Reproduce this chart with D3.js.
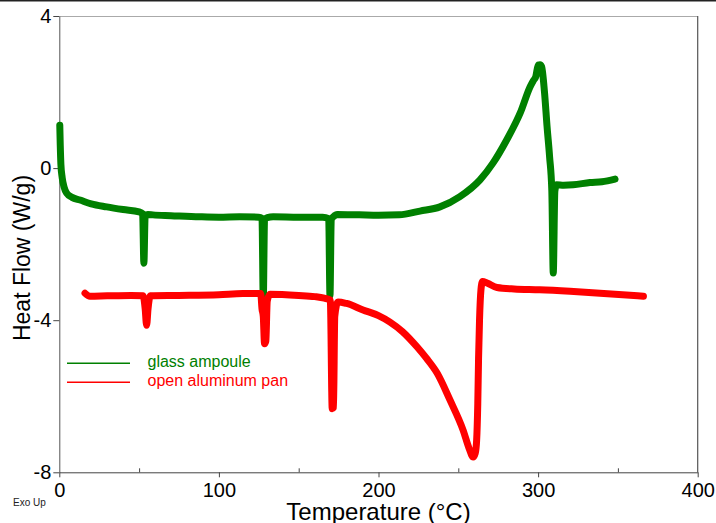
<!DOCTYPE html>
<html>
<head>
<meta charset="utf-8">
<script src="https://cdn.jsdelivr.net/npm/d3@7"></script>
<style>
  html, body { margin: 0; padding: 0; background: #fff; }
  svg { display: block; }
  text { font-family: Arial, "Liberation Sans", sans-serif; }
</style>
</head>
<body>
<svg id="chart" width="716" height="523"></svg>
<script>
// ---- data ----
const seriesNames = ["glass ampoule", "open aluminum pan"];
const seriesColors = ["#008000", "#ff0000"];

const glassT = [0.3, 0.6, 1.0, 1.8, 3, 4.6, 8, 13, 20, 29.7, 40, 50, 52.2, 53.0, 53.8, 55.5, 58.7, 70, 88, 100, 113, 125, 127.0, 127.8, 128.6, 130.3, 134, 150, 165, 168.8, 169.6, 170.4, 172.5, 174, 188, 200, 213, 226, 238.5, 251, 263.6, 271.7, 280.3, 288.8, 295, 297, 298.5, 300.1, 301.2, 302.2, 304, 305.6, 307.2, 308.6, 309.5, 310.5, 311.6, 316, 322, 332.5, 340, 348.2];
const glassV = [1.13, 0.6, 0.1, -0.25, -0.5, -0.66, -0.77, -0.84, -0.94, -1.02, -1.09, -1.15, -1.2, -2.5, -1.25, -1.22, -1.23, -1.25, -1.28, -1.29, -1.28, -1.29, -1.32, -3.45, -1.35, -1.3, -1.28, -1.29, -1.29, -1.33, -3.35, -1.35, -1.25, -1.22, -1.23, -1.24, -1.23, -1.13, -1.02, -0.75, -0.31, 0.13, 0.74, 1.45, 2.14, 2.3, 2.4, 2.71, 2.72, 2.67, 2.0, 1.1, 0.3, -0.6, -2.76, -0.6, -0.44, -0.45, -0.44, -0.38, -0.36, -0.29];

const panT = [16.1, 19.2, 30, 45, 52.5, 53.8, 54.7, 55.6, 57.0, 75, 100, 115, 126.2, 127.0, 127.8, 128.6, 129.4, 130.3, 132, 150, 160, 166, 169.8, 171.0, 171.8, 172.6, 174.6, 180, 190.3, 200, 207.2, 215, 224.1, 230, 236.7, 244.8, 253, 257, 259.3, 260.6, 261.5, 262.2, 262.7, 263.3, 264.2, 265.2, 268, 274.3, 285, 301, 320, 338.8, 366];
const panV = [-3.29, -3.37, -3.36, -3.35, -3.36, -3.7, -4.13, -3.7, -3.36, -3.35, -3.33, -3.3, -3.3, -3.7, -3.9, -4.62, -4.55, -3.5, -3.32, -3.35, -3.38, -3.42, -3.47, -6.33, -6.3, -3.9, -3.52, -3.56, -3.73, -3.88, -4.05, -4.3, -4.7, -5.0, -5.39, -6.1, -6.89, -7.4, -7.6, -7.5, -7.15, -6.2, -5.0, -4.0, -3.2, -2.98, -3.02, -3.14, -3.18, -3.2, -3.24, -3.29, -3.37];

const xTicks = [0, 100, 200, 300, 400];
const xMinorTicks = [50, 150, 250, 350];
const yTicks = [4, 0, -4, -8];
const xTitle = "Temperature (°C)";
const yTitle = "Heat Flow (W/g)";
const cornerNote = "Exo Up";

// ---- layout ----
const svg = d3.select("#chart");
const X0 = 59.3, X1 = 697.7, Y0 = 16, Y1 = 472.3;
const x = d3.scaleLinear().domain([0, 400]).range([X0, X1]);
const y = d3.scaleLinear().domain([-8, 4]).range([Y1, Y0]);

svg.append("rect").attr("width", 716).attr("height", 523).attr("fill", "#fff");
// top border of image
svg.append("rect").attr("x", 0).attr("y", 0).attr("width", 716).attr("height", 1.5).attr("fill", "#222");

// frame: top & right
svg.append("line").attr("x1", X0).attr("x2", X1).attr("y1", Y0 + 0.5).attr("y2", Y0 + 0.5)
  .attr("stroke", "#aaa").attr("stroke-width", 1);
svg.append("line").attr("x1", X1).attr("x2", X1).attr("y1", Y0).attr("y2", Y1)
  .attr("stroke", "#555").attr("stroke-width", 1.2);

// x axis
const gx = svg.append("g").attr("transform", `translate(0,${Y1})`)
  .call(d3.axisBottom(x).tickValues(xTicks).tickSize(5).tickSizeOuter(0).tickPadding(5.5).tickFormat(d => String(d)));
gx.select(".domain").attr("stroke", "#444");
gx.selectAll(".tick line").attr("stroke", "#444");
gx.selectAll("text").attr("font-size", 20).attr("fill", "#000")
  .attr("font-family", 'Arial, "Liberation Sans", sans-serif');
const gxm = svg.append("g").attr("transform", `translate(0,${Y1})`)
  .call(d3.axisBottom(x).tickValues(xMinorTicks).tickSize(-4).tickSizeOuter(0).tickFormat(""));
gxm.select(".domain").remove();
gxm.selectAll(".tick line").attr("stroke", "#444");

// y axis
const gy = svg.append("g").attr("transform", `translate(${X0},0)`)
  .call(d3.axisLeft(y).tickValues(yTicks).tickSize(6).tickSizeOuter(0).tickPadding(2).tickFormat(d => String(d)));
gy.select(".domain").attr("stroke", "#555");
gy.selectAll(".tick line").attr("stroke", "#444");
gy.selectAll("text").attr("font-size", 20).attr("fill", "#000")
  .attr("font-family", 'Arial, "Liberation Sans", sans-serif');

// series
const line = d3.line().x(d => x(d[0])).y(d => y(d[1])).curve(d3.curveMonotoneX);
const glass = glassT.map((t, i) => [t, glassV[i]]);
const pan = panT.map((t, i) => [t, panV[i]]);
[glass, pan].forEach((data, i) => {
  svg.append("path").datum(data).attr("d", line)
    .attr("fill", "none").attr("stroke", seriesColors[i]).attr("stroke-width", 7)
    .attr("stroke-linecap", "round").attr("stroke-linejoin", "round");
});

// legend
const legY = [363.3, 382.3];
seriesNames.forEach((name, i) => {
  svg.append("line").attr("x1", 67).attr("x2", 130).attr("y1", legY[i]).attr("y2", legY[i])
    .attr("stroke", seriesColors[i]).attr("stroke-width", 1.5);
  svg.append("text").attr("x", 147.5).attr("y", legY[i] + 4)
    .attr("font-size", 16).attr("fill", seriesColors[i]).text(name);
});

// titles
svg.append("text").attr("x", (X0 + X1) / 2).attr("y", 520).attr("text-anchor", "middle")
  .attr("font-size", 24).attr("fill", "#000").text(xTitle);
svg.append("text").attr("transform", "translate(30,258) rotate(-90)").attr("text-anchor", "middle")
  .attr("font-size", 23).attr("fill", "#000").text(yTitle);
svg.append("text").attr("x", 13).attr("y", 506).attr("font-size", 10).attr("fill", "#222").text(cornerNote);
</script>
</body>
</html>
